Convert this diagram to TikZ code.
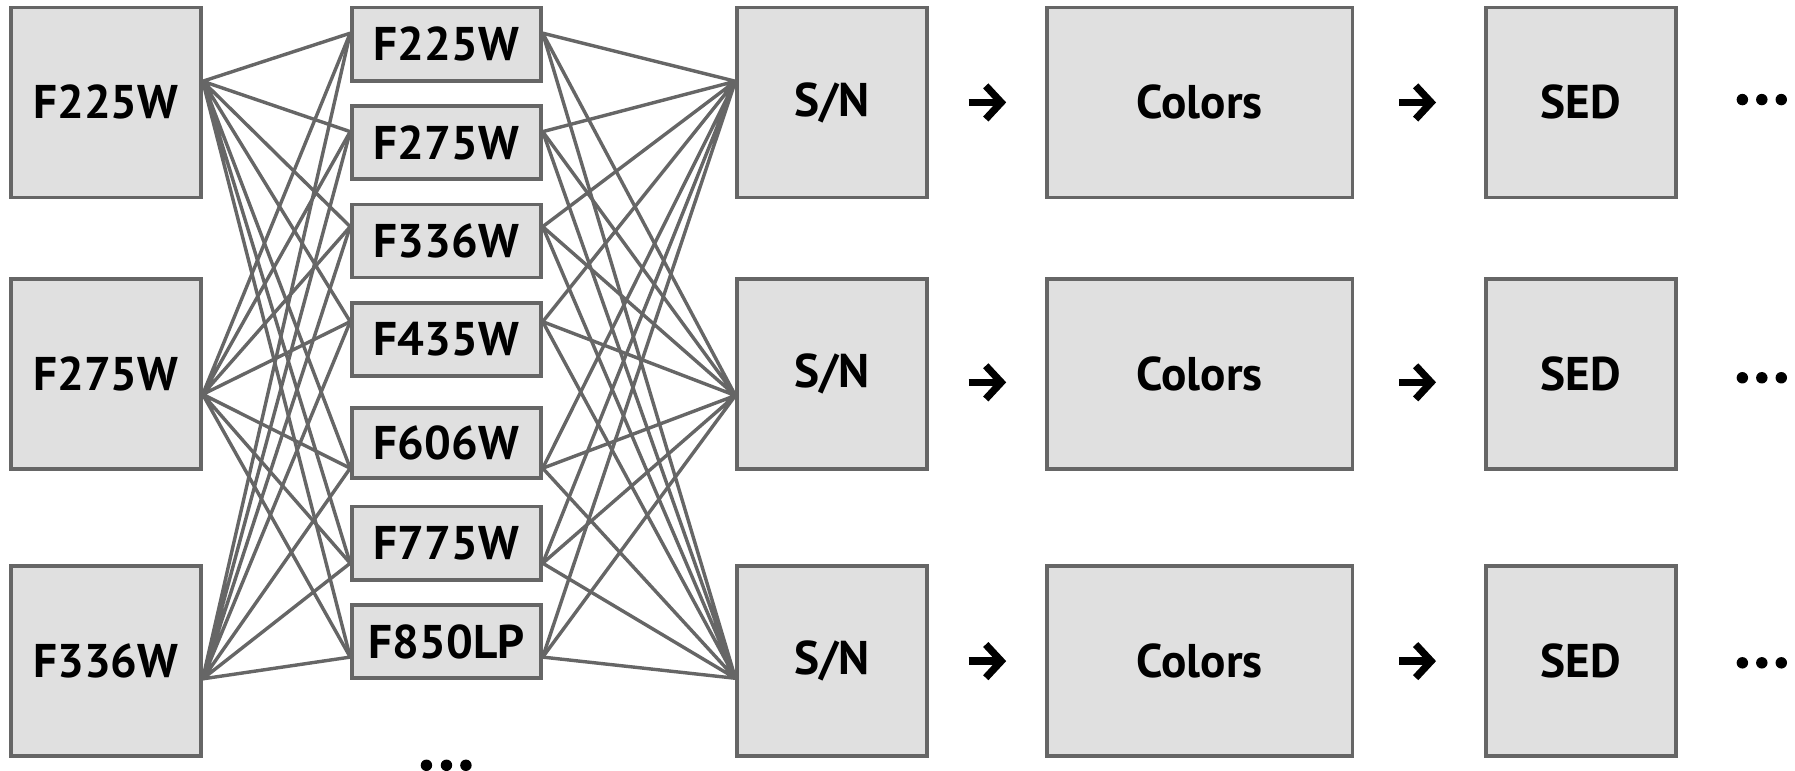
\documentclass[tikz,border=0pt]{standalone}
\usepackage{fontspec}
\setmainfont{PT Sans}
\usetikzlibrary{arrows.meta,positioning,calc}
\definecolor{boxfill}{HTML}{E0E0E0}
\definecolor{boxline}{HTML}{666666}
\tikzset{
  bigbox/.style={draw=boxline, fill=boxfill, line width=1.8pt, align=center, inner sep=0pt, minimum width=3.32cm, minimum height=3.32cm, font=\fontsize{23.5}{27}\selectfont\bfseries},
  widebox/.style={bigbox, minimum width=5.34cm},
  filterbox/.style={draw=boxline, fill=boxfill, line width=1.8pt, align=center, inner sep=0pt, minimum width=3.3cm, minimum height=1.28cm, font=\fontsize{23.5}{27}\selectfont\bfseries},
  link/.style={draw=boxline, line width=1.7pt},
  steparrow/.style={-{Straight Barb[length=2.7mm,width=5.8mm]}, line width=3.6pt},
  dotmark/.style={circle, fill=black, minimum size=2mm, inner sep=0pt}
}

\begin{document}
\begin{tikzpicture}
\useasboundingbox (0,0) rectangle (31.36,-13.46);

% input bands
\node[bigbox] (in1) at (1.85,-1.79) {F225W};
\node[bigbox] (in2) at (1.85,-6.53) {F275W};
\node[bigbox] (in3) at (1.85,-11.55) {F336W};

% filter column
\node[filterbox] (f1) at (7.8,-0.77) {F225W};
\node[filterbox] (f2) at (7.8,-2.49) {F275W};
\node[filterbox] (f3) at (7.8,-4.21) {F336W};
\node[filterbox] (f4) at (7.8,-5.93) {F435W};
\node[filterbox, minimum height=1.22cm] (f5) at (7.8,-7.74) {F606W};
\node[filterbox] (f6) at (7.8,-9.49) {F775W};
\node[filterbox] (f7) at (7.8,-11.21) {F850LP};
\node[dotmark] (fd1) at (7.45,-13.37) {};
\node[dotmark] (fd2) at (7.8,-13.37) {};
\node[dotmark] (fd3) at (8.14,-13.37) {};

% pipeline per row
\node[bigbox] (sn1) at (14.54,-1.79) {S/N};
\node[bigbox] (sn2) at (14.54,-6.53) {S/N};
\node[bigbox] (sn3) at (14.54,-11.55) {S/N};
\node[widebox] (col1) at (20.96,-1.79) {Colors};
\node[widebox] (col2) at (20.96,-6.53) {Colors};
\node[widebox] (col3) at (20.96,-11.55) {Colors};
\node[bigbox] (sed1) at (27.62,-1.79) {SED};
\node[bigbox] (sed2) at (27.62,-6.53) {SED};
\node[bigbox] (sed3) at (27.62,-11.55) {SED};

\node[dotmark] (m1a) at (30.44,-1.74) {};
\node[dotmark] (m1b) at (30.78,-1.74) {};
\node[dotmark] (m1c) at (31.12,-1.74) {};
\node[dotmark] (m2a) at (30.44,-6.6) {};
\node[dotmark] (m2b) at (30.78,-6.6) {};
\node[dotmark] (m2c) at (31.12,-6.6) {};
\node[dotmark] (m3a) at (30.44,-11.58) {};
\node[dotmark] (m3b) at (30.78,-11.58) {};
\node[dotmark] (m3c) at (31.12,-11.58) {};

% attachment points of the links
\coordinate (in1o) at ([yshift=0.37cm]in1.east);
\coordinate (in2o) at ([yshift=-0.36cm]in2.east);
\coordinate (in3o) at ([yshift=-0.31cm]in3.east);
\coordinate (sn1i) at ([yshift=0.37cm]sn1.west);
\coordinate (sn2i) at ([yshift=-0.38cm]sn2.west);
\coordinate (sn3i) at ([yshift=-0.3cm]sn3.west);
\coordinate (f1i) at ([yshift=0.19cm]f1.west);
\coordinate (f2i) at ([yshift=0.19cm]f2.west);
\coordinate (f3i) at ([yshift=0.25cm]f3.west);
\coordinate (f4i) at ([yshift=0.31cm]f4.west);
\coordinate (f5i) at ([yshift=-0.44cm]f5.west);
\coordinate (f6i) at ([yshift=-0.35cm]f6.west);
\coordinate (f7i) at ([yshift=-0.27cm]f7.west);
\coordinate (f1o) at ([yshift=0.19cm]f1.east);
\coordinate (f2o) at ([yshift=0.19cm]f2.east);
\coordinate (f3o) at ([yshift=0.25cm]f3.east);
\coordinate (f4o) at ([yshift=0.31cm]f4.east);
\coordinate (f5o) at ([yshift=-0.44cm]f5.east);
\coordinate (f6o) at ([yshift=-0.35cm]f6.east);
\coordinate (f7o) at ([yshift=-0.27cm]f7.east);

% bands -> filters
\draw[link] (in1o) -- (f1i) (in1o) -- (f2i) (in1o) -- (f3i) (in1o) -- (f4i) (in1o) -- (f5i) (in1o) -- (f6i) (in1o) -- (f7i);
\draw[link] (in2o) -- (f1i) (in2o) -- (f2i) (in2o) -- (f3i) (in2o) -- (f4i) (in2o) -- (f5i) (in2o) -- (f6i) (in2o) -- (f7i);
\draw[link] (in3o) -- (f1i) (in3o) -- (f2i) (in3o) -- (f3i) (in3o) -- (f4i) (in3o) -- (f5i) (in3o) -- (f6i) (in3o) -- (f7i);

% filters -> S/N
\draw[link] (f1o) -- (sn1i) (f2o) -- (sn1i) (f3o) -- (sn1i) (f4o) -- (sn1i) (f5o) -- (sn1i) (f6o) -- (sn1i) (f7o) -- (sn1i);
\draw[link] (f1o) -- (sn2i) (f2o) -- (sn2i) (f3o) -- (sn2i) (f4o) -- (sn2i) (f5o) -- (sn2i) (f6o) -- (sn2i) (f7o) -- (sn2i);
\draw[link] (f1o) -- (sn3i) (f2o) -- (sn3i) (f3o) -- (sn3i) (f4o) -- (sn3i) (f5o) -- (sn3i) (f6o) -- (sn3i) (f7o) -- (sn3i);

% S/N -> Colors -> SED
\draw[steparrow, shorten <=0.69cm, shorten >=0.68cm] (sn1) -- (col1);
\draw[steparrow, shorten <=0.69cm, shorten >=0.68cm] ([yshift=-0.15cm]sn2.east) -- ([yshift=-0.15cm]col2.west);
\draw[steparrow, shorten <=0.69cm, shorten >=0.68cm] (sn3) -- (col3);
\draw[steparrow, shorten <=0.78cm, shorten >=0.84cm] (col1) -- (sed1);
\draw[steparrow, shorten <=0.78cm, shorten >=0.84cm] ([yshift=-0.15cm]col2.east) -- ([yshift=-0.15cm]sed2.west);
\draw[steparrow, shorten <=0.78cm, shorten >=0.84cm] (col3) -- (sed3);
\end{tikzpicture}
\end{document}
